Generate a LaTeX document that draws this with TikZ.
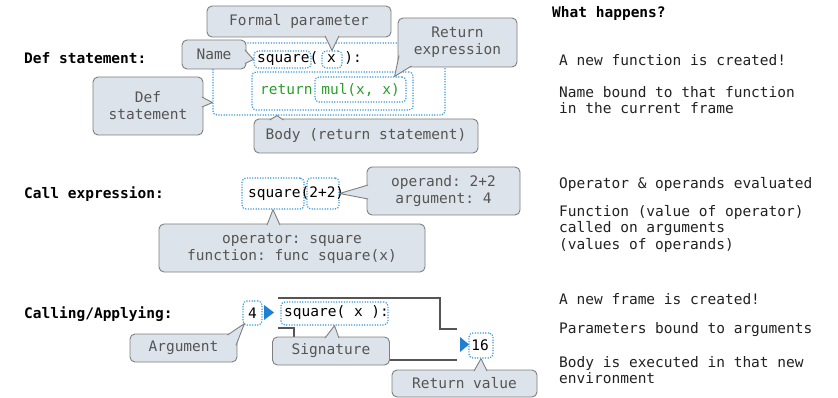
\documentclass[tikz,border=0pt]{standalone}
\usepackage{fontspec}
\setmonofont{DejaVu Sans Mono}
\usepackage{tikz}
\usetikzlibrary{positioning}

\definecolor{callfill}{HTML}{DDE3EA}
\definecolor{calledge}{HTML}{7F7F7F}
\definecolor{calltext}{HTML}{555555}
\definecolor{dotblue}{HTML}{3A9AD9}
\definecolor{triblue}{HTML}{1F7FD0}
\definecolor{codegreen}{HTML}{2A9E2A}
\definecolor{framegray}{HTML}{555555}

% pointer of a callout: base point, tip, base point
\newcommand{\pointer}[3]{%
  \fill[callfill] #1 -- #2 -- #3 -- cycle;
  \draw[calledge,line width=0.9pt,line join=round] #1 -- #2 -- #3;}

\begin{document}
\begin{tikzpicture}[x=1pt,y=-1pt,
    txt/.style={font=\ttfamily\fontsize{14.5}{16.5}\selectfont,anchor=west,align=left,inner sep=0pt,text=black!87},
    heading/.style={txt,font=\ttfamily\bfseries\fontsize{14.5}{16.5}\selectfont,text=black},
    code/.style={txt,text=black},
    dotbox/.style={draw=dotblue,line width=1.2pt,dash pattern=on 1.2pt off 1.4pt,rounded corners=4pt,inner sep=0pt},
    callout/.style={draw=calledge,fill=callfill,line width=0.9pt,rounded corners=5pt,inner sep=0pt,align=center,text=calltext,font=\ttfamily\fontsize{14.5}{17}\selectfont},
    frameline/.style={draw=framegray,line width=1.3pt}]
  \useasboundingbox (0,0) rectangle (838,398);

  % headings
  \node[heading] (whathead) at (552,14) {What happens?};
  \node[heading] (deflbl)   at (24,58)  {Def statement:};
  \node[heading] (calllbl)  at (24,194) {Call expression:};
  \node[heading] (applylbl) at (24,314) {Calling/Applying:};

  % what happens
  \node[txt] (newfunc)  at (559,60)    {A new function is created!};
  \node[txt] (bound)    at (559,100)   {Name bound to that function\\in the current frame};
  \node[txt] (evald)    at (559,184)   {Operator \& operands evaluated};
  \node[txt] (called)   at (559,228.5) {Function (value of operator)\\called on arguments\\(values of operands)};
  \node[txt] (newframe) at (559,299)   {A new frame is created!};
  \node[txt] (params)   at (559,330)   {Parameters bound to arguments};
  \node[txt] (executed) at (559,370)   {Body is executed in that new\\environment};

  % def statement
  \node[dotbox,minimum width=232pt,minimum height=72pt] (defbox)  at (329,79) {};
  \node[dotbox,minimum width=57pt,minimum height=17pt]  (namebox) at (282.5,59.5) {};
  \node[dotbox,minimum width=20pt,minimum height=17pt]  (xbox)    at (332,59.5) {};
  \node[dotbox,minimum width=161pt,minimum height=38pt] (bodybox) at (332.5,91) {};
  \node[dotbox,minimum width=91pt,minimum height=25pt]  (mulbox)  at (360.5,89.5) {};
  \node[code] (defline) at (257,59) {square( x ):};
  \node[code,text=codegreen] (retline) at (260,90) {return mul(x, x)};

  % call expression
  \node[dotbox,minimum width=62pt,minimum height=31pt] (opbox)  at (273,193.5) {};
  \node[dotbox,minimum width=32pt,minimum height=31pt] (argbox) at (323,193.5) {};
  \node[code] (callline) at (248,194) {square(2+2)};

  % calling / applying
  \draw[frameline] (278,298) -| (440,329) -- (457,329);
  \draw[frameline] (278,328) -| (294,360) -- (457,360);
  \node[dotbox,minimum width=19pt,minimum height=24pt]  (fourbox)    at (252.5,313) {};
  \node[code,anchor=center] (four) at (252.5,313) {4};
  \node[dotbox,minimum width=107pt,minimum height=23pt] (sigbox)     at (334.5,313.5) {};
  \node[code] (sigline) at (284,313) {square( x ):};
  \node[dotbox,minimum width=24pt,minimum height=25pt]  (sixteenbox) at (481,345.5) {};
  \node[code,anchor=center] (sixteen) at (480,345) {16};
  \fill[triblue] (264,305) -- (274,312.5) -- (264,320) -- cycle;
  \fill[triblue] (460,337) -- (469,344.5) -- (460,352) -- cycle;

  % callouts
  \node[callout,minimum width=184pt,minimum height=31pt] (formal)   at (299,21.5)  {Formal parameter};
  \node[callout,minimum width=64pt,minimum height=29pt]  (name)     at (214,54.5)  {Name};
  \node[callout,minimum width=119pt,minimum height=49pt] (retexpr)  at (457.5,42.5) {Return\\expression};
  \node[callout,minimum width=110pt,minimum height=58pt] (defstmt)  at (148,106)   {Def\\statement};
  \node[callout,minimum width=224pt,minimum height=34pt] (body)     at (366,136)   {Body (return statement)};
  \node[callout,minimum width=153pt,minimum height=48pt] (operand)  at (443.5,191) {operand: 2+2\\argument: 4};
  \node[callout,minimum width=266pt,minimum height=48pt] (operator) at (292,248)   {operator: square\\function: func square(x)};
  \node[callout,minimum width=107pt,minimum height=28pt] (argcall)  at (183.5,348) {Argument};
  \node[callout,minimum width=117pt,minimum height=28pt] (sigcall)  at (331,351)   {Signature};
  \node[callout,minimum width=145pt,minimum height=27pt] (retval)   at (464.5,383.5) {Return value};

  \pointer{([xshift=26pt,yshift=1.5pt]formal.south)}{(xbox.north)}{([xshift=40pt,yshift=1.5pt]formal.south)}
  \pointer{([xshift=-1.5pt,yshift=4.5pt]name.east)}{(namebox.west)}{([xshift=-1.5pt,yshift=-9pt]name.east)}
  \pointer{([xshift=1.5pt,yshift=12pt]retexpr.south west)}{([xshift=-12pt]mulbox.north east)}{([xshift=14pt,yshift=1.5pt]retexpr.south west)}
  \pointer{([xshift=-1.5pt,yshift=9pt]defstmt.east)}{([yshift=13pt]defbox.south west)}{([xshift=-1.5pt,yshift=-1pt]defstmt.east)}
  \pointer{([xshift=16pt,yshift=-1.5pt]body.north west)}{([xshift=-52pt]defbox.south)}{([xshift=30pt,yshift=-1.5pt]body.north west)}
  \pointer{([xshift=1.5pt,yshift=6pt]operand.west)}{(argbox.east)}{([xshift=1.5pt,yshift=-8pt]operand.west)}
  \pointer{([xshift=-25pt,yshift=-1.5pt]operator.north)}{(opbox.south)}{([xshift=-12pt,yshift=-1.5pt]operator.north)}
  \pointer{([xshift=-10pt,yshift=-1.5pt]argcall.north east)}{([xshift=2pt,yshift=2pt]fourbox.south west)}{([xshift=-1.5pt,yshift=-12pt]argcall.north east)}
  \pointer{([xshift=-6pt,yshift=-1.5pt]sigcall.north)}{(sigbox.south)}{([xshift=8pt,yshift=-1.5pt]sigcall.north)}
  \pointer{([xshift=9.5pt,yshift=-1.5pt]retval.north)}{(sixteenbox.south)}{([xshift=22.5pt,yshift=-1.5pt]retval.north)}
\end{tikzpicture}
\end{document}
